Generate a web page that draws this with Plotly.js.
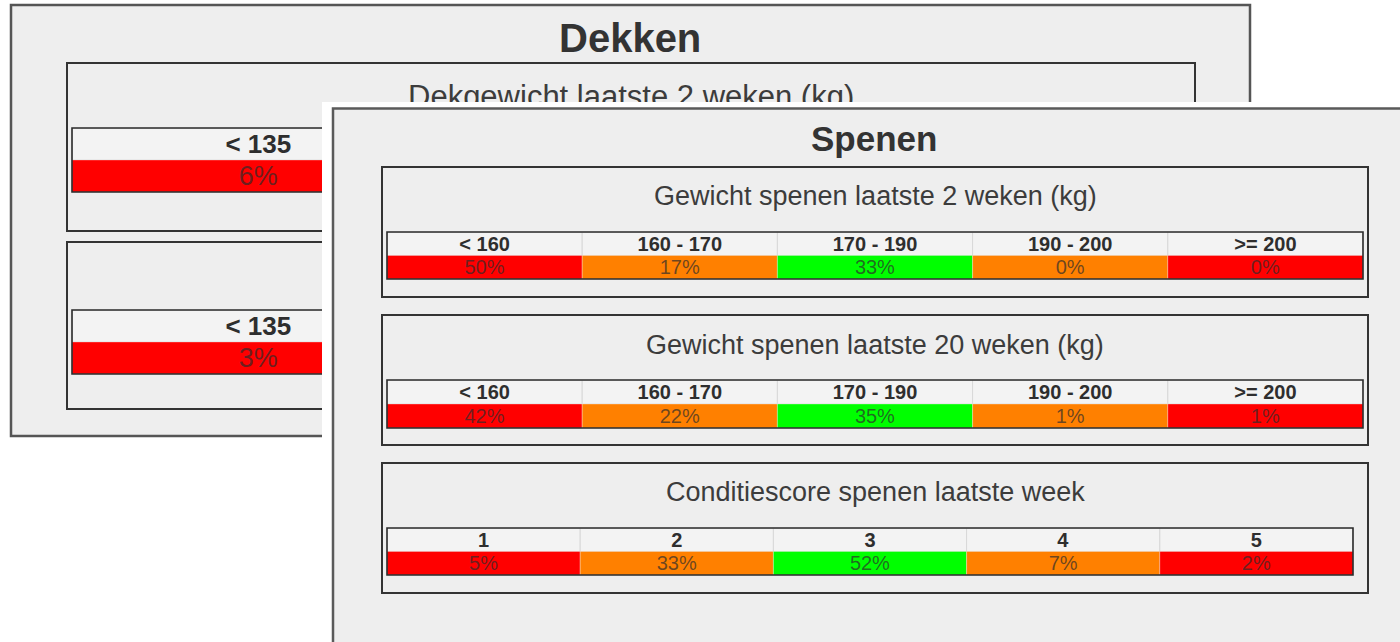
<!DOCTYPE html>
<html><head><meta charset="utf-8">
<script src="https://cdn.plot.ly/plotly-3.0.1.min.js"></script>
<style>
html,body{margin:0;padding:0;background:#fff;overflow:hidden;}
#back,#front{position:absolute;left:0;top:0;width:1400px;height:642px;}
#back{z-index:1;}
#front{z-index:2;}
</style></head><body>
<div id="back"></div><div id="front"></div>
<script>
// ---------- data ----------
const dekkenTitle = "Dekken";
const dekkenSub1 = "Dekgewicht laatste 2 weken (kg)";
const dekkenCategories = ["< 135"];
const dekkenGewicht2w = [6];
const dekkenGewicht20w = [3];

const spenenTitle = "Spenen";
const spenenSub1 = "Gewicht spenen laatste 2 weken (kg)";
const spenenSub2 = "Gewicht spenen laatste 20 weken (kg)";
const spenenSub3 = "Conditiescore spenen laatste week";
const spenenCategories = ["< 160", "160 - 170", "170 - 190", "190 - 200", ">= 200"];
const spenenGewicht2w = [50, 17, 33, 0, 0];
const spenenGewicht20w = [42, 22, 35, 1, 1];
const conditieCategories = ["1", "2", "3", "4", "5"];
const conditieWeek = [5, 33, 52, 7, 2];

// ---------- styles ----------
const W = 1400, H = 642;
const px = x => x / W, py = y => 1 - y / H;
const FONT = "Liberation Sans, Arial, Helvetica, sans-serif";
const RED = "#ff0000", ORANGE = "#ff8000", GREEN = "#00ff00";
const spenenColors = [RED, ORANGE, GREEN, ORANGE, RED];
const dekkenColors = [RED, ORANGE, GREEN];
const PANEL_BG = "#eeeeee";

function rect(x0, y0, x1, y1, fill, lineColor, lineWidth) {
  return {type: "rect", xref: "paper", yref: "paper", layer: "below",
    x0: px(x0), x1: px(x1), y0: py(y1), y1: py(y0),
    fillcolor: fill, line: {color: lineColor, width: lineWidth}};
}
function label(text, x, y, size, bold, color) {
  return {text: text, xref: "paper", yref: "paper", x: px(x), y: py(y),
    xanchor: "center", yanchor: "middle", showarrow: false,
    font: {family: FONT, size: size, color: color, weight: bold ? "bold" : "normal"}};
}

// one category/percentage strip drawn on its own axes pair
function strip(layout, traces, k, cats, vals, colors, geom, slots, headSize, valSize) {
  const xa = "xaxis" + k, ya = "yaxis" + k;
  layout[xa] = {domain: [px(geom.x0), px(geom.x1)], range: [-0.5, slots - 0.5],
    type: "category", categoryorder: "array", categoryarray: cats,
    visible: false, fixedrange: true, anchor: "y" + k};
  layout[ya] = {domain: [py(geom.y1), py(geom.y0)], range: [0, 2],
    visible: false, fixedrange: true, anchor: "x" + k};
  const ones = cats.map(() => 1);
  traces.push({type: "bar", x: cats, y: ones, base: ones, width: 1,
    xaxis: "x" + k, yaxis: "y" + k,
    marker: {color: "#f3f3f3", line: {color: "#d8d8d8", width: 1}},
    text: cats, textposition: "inside", insidetextanchor: "middle",
    constraintext: "none", textangle: 0,
    textfont: {family: FONT, size: headSize, color: "#2e2e2e", weight: "bold"},
    hoverinfo: "skip"});
  traces.push({type: "bar", x: cats, y: ones, base: cats.map(() => 0), width: 1,
    xaxis: "x" + k, yaxis: "y" + k,
    marker: {color: colors.slice(0, cats.length), line: {color: "rgba(255,255,255,0.3)", width: 1}},
    text: vals.map(v => v + "%"), textposition: "inside", insidetextanchor: "middle",
    constraintext: "none", textangle: 0,
    textfont: {family: FONT, size: valSize, color: "rgba(45,45,45,0.7)"},
    hoverinfo: "skip"});
  layout.shapes.push({type: "rect", xref: "x" + k + " domain", yref: "y" + k + " domain",
    x0: 0, x1: 1, y0: 0, y1: 1, layer: "above",
    line: {color: "#2a2a2a", width: 1.6}});
}

function baseLayout(bg) {
  return {width: W, height: H, margin: {l: 0, r: 0, t: 0, b: 0},
    paper_bgcolor: bg, plot_bgcolor: "rgba(0,0,0,0)", showlegend: false,
    barmode: "overlay", shapes: [], annotations: [], font: {family: FONT}};
}

// ---------- back panel: Dekken ----------
const bl = baseLayout("#ffffff"), bt = [];
bl.shapes.push(rect(11, 5, 1250, 436, PANEL_BG, "#555555", 2.5));
bl.shapes.push(rect(67, 63, 1195, 231, "rgba(0,0,0,0)", "#333333", 2));
bl.shapes.push(rect(67, 242, 1195, 409, "rgba(0,0,0,0)", "#333333", 2));
bl.annotations.push(label(dekkenTitle, 630, 38, 40, true, "#333333"));
bl.annotations.push(label(dekkenSub1, 631, 96, 31, false, "#3c3c3c"));
strip(bl, bt, 1, dekkenCategories, dekkenGewicht2w, dekkenColors,
  {x0: 72, x1: 1190, y0: 128, y1: 192}, 3, 26, 27);
strip(bl, bt, 2, dekkenCategories, dekkenGewicht20w, dekkenColors,
  {x0: 72, x1: 1190, y0: 310, y1: 374}, 3, 26, 27);

// ---------- front panel: Spenen ----------
const fl = baseLayout("rgba(0,0,0,0)"), ft = [];
fl.shapes.push(rect(322, 102, 1450, 700, "#ffffff", "rgba(0,0,0,0)", 0));
fl.shapes.push(rect(333, 108.5, 1418, 700, PANEL_BG, "#5a5a5a", 2.5));
fl.shapes.push(rect(382, 167, 1368, 297, "rgba(0,0,0,0)", "#333333", 2));
fl.shapes.push(rect(382, 315, 1368, 445, "rgba(0,0,0,0)", "#333333", 2));
fl.shapes.push(rect(382, 463, 1368, 593, "rgba(0,0,0,0)", "#333333", 2));
fl.annotations.push(label(spenenTitle, 874, 138, 35, true, "#333333"));
fl.annotations.push(label(spenenSub1, 875, 196, 27, false, "#3c3c3c"));
fl.annotations.push(label(spenenSub2, 875, 345, 27, false, "#3c3c3c"));
fl.annotations.push(label(spenenSub3, 875, 492, 27, false, "#3c3c3c"));
strip(fl, ft, 1, spenenCategories, spenenGewicht2w, spenenColors,
  {x0: 387, x1: 1363, y0: 232, y1: 279}, 5, 20, 20);
strip(fl, ft, 2, spenenCategories, spenenGewicht20w, spenenColors,
  {x0: 387, x1: 1363, y0: 380, y1: 428}, 5, 20, 20);
strip(fl, ft, 3, conditieCategories, conditieWeek, spenenColors,
  {x0: 387, x1: 1353, y0: 528, y1: 575}, 5, 20, 20);

const cfg = {staticPlot: true, displayModeBar: false};
Plotly.newPlot("back", bt, bl, cfg);
Plotly.newPlot("front", ft, fl, cfg);
</script>
</body></html>
